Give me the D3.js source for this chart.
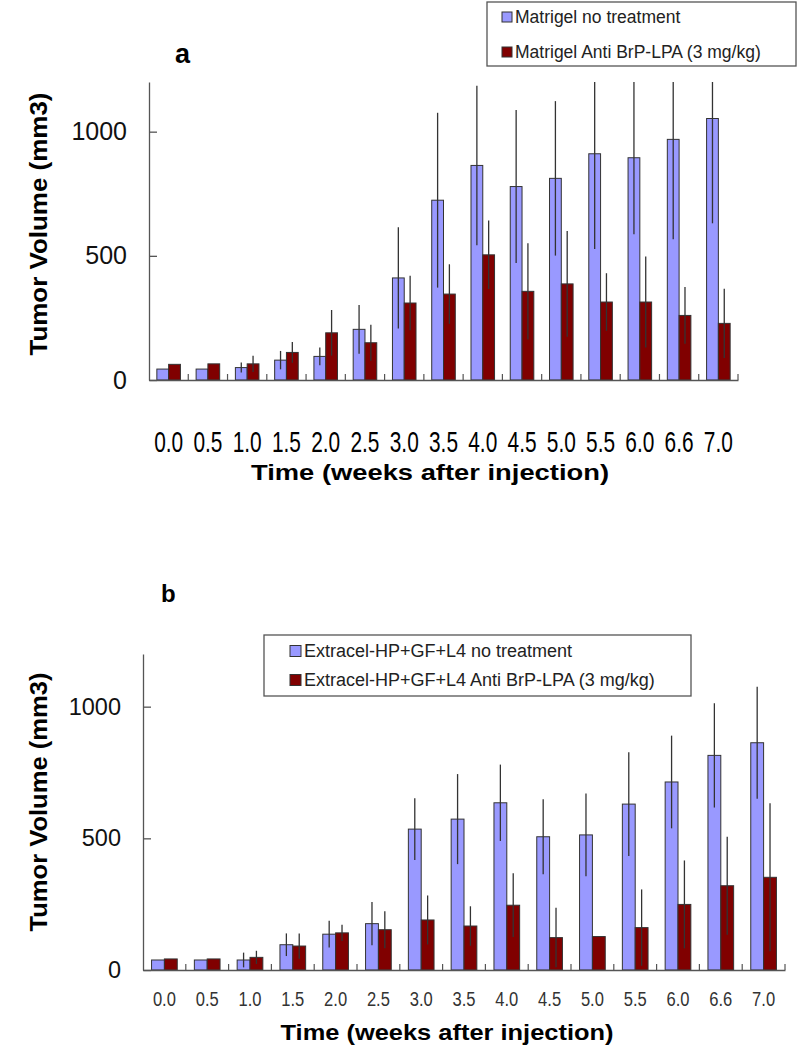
<!DOCTYPE html>
<html>
<head>
<meta charset="utf-8">
<script src="https://cdn.jsdelivr.net/npm/d3@7.9.0/dist/d3.min.js"></script>
<style>
  body { margin: 0; background: #fff; }
  svg { display: block; font-family: "Liberation Sans", Arial, sans-serif; }
</style>
</head>
<body>
<svg id="chart" width="812" height="1050"></svg>
<script>
// time points (weeks after injection)
const weeks = ['0.0', '0.5', '1.0', '1.5', '2.0', '2.5', '3.0', '3.5', '4.0', '4.5', '5.0', '5.5', '6.0', '6.6', '7.0'];
const yTicks = [0, 500, 1000];

// panel a - Matrigel
const matrigelNoTx     = [44, 44, 50, 80, 95, 204, 411, 724, 864, 779, 812, 911, 895, 969, 1053];
const matrigelNoTxErr  = [0, 0, 20, 37, 36, 98, 204, 352, 321, 308, 311, 383, 308, 402, 422];
const matrigelAnti     = [63, 65, 65, 111, 190, 150, 310, 346, 504, 357, 387, 314, 314, 260, 228];
const matrigelAntiErr  = [0, 0, 33, 42, 92, 72, 110, 120, 138, 194, 213, 116, 183, 114, 139];

// panel b - Extracel-HP+GF+L4
const extracelNoTx     = [38, 38, 38, 96, 136, 176, 535, 573, 635, 506, 513, 630, 714, 815, 863];
const extracelNoTxErr  = [0, 0, 28, 43, 51, 82, 117, 171, 145, 142, 157, 197, 176, 198, 213];
const extracelAnti     = [42, 42, 48, 91, 141, 153, 190, 167, 246, 123, 127, 161, 249, 320, 352];
const extracelAntiErr  = [0, 0, 25, 48, 31, 70, 93, 75, 121, 113, 0, 145, 167, 186, 281];

const legendA = ['Matrigel no treatment', 'Matrigel Anti BrP-LPA (3 mg/kg)'];
const legendB = ['Extracel-HP+GF+L4 no treatment', 'Extracel-HP+GF+L4 Anti BrP-LPA (3 mg/kg)'];

const BLUE = '#9999ff', RED = '#800000', AXIS = '#555';

const svg = d3.select('#chart');
svg.append('rect').attr('width', 812).attr('height', 1050).attr('fill', '#fff');

function drawPanel(p) {
  const x = d3.scaleBand().domain(weeks).range([p.left, p.right]).paddingInner(0).paddingOuter(0);
  const y = d3.scaleLinear().domain([0, 1200]).range([p.bottom, p.top]).clamp(true);
  const bw = x.step() * 0.3;
  const g = svg.append('g');

  const series = [
    { vals: p.a, err: p.aErr, color: BLUE, off: -bw },
    { vals: p.b, err: p.bErr, color: RED, off: 0 }
  ];

  // bars
  series.forEach(s => {
    g.append('g').selectAll('rect')
      .data(weeks)
      .join('rect')
      .attr('x', (d) => x(d) + x.step() / 2 + s.off)
      .attr('y', (d, i) => y(s.vals[i]))
      .attr('width', bw)
      .attr('height', (d, i) => y(0) - y(s.vals[i]))
      .attr('fill', s.color)
      .attr('stroke', '#333')
      .attr('stroke-width', 1);
  });

  // error bars (symmetric, no caps)
  series.forEach(s => {
    g.append('g').selectAll('line')
      .data(weeks.filter((d, i) => s.err[i] > 0))
      .join('line')
      .attr('x1', d => x(d) + x.step() / 2 + s.off + bw / 2)
      .attr('x2', d => x(d) + x.step() / 2 + s.off + bw / 2)
      .attr('y1', d => { const i = weeks.indexOf(d); return y(s.vals[i] + s.err[i]); })
      .attr('y2', d => { const i = weeks.indexOf(d); return y(Math.max(0, s.vals[i] - s.err[i])); })
      .attr('stroke', '#333')
      .attr('stroke-width', 1.3);
  });

  // y axis
  const ya = g.append('g')
    .attr('transform', `translate(${p.left},0)`)
    .call(d3.axisLeft(y).tickValues(yTicks).tickSize(-8).tickSizeOuter(0).tickPadding(p.yPad).tickFormat(d3.format('d')));
  ya.select('.domain').attr('stroke', AXIS).attr('stroke-width', 1.3);
  ya.selectAll('.tick line').attr('stroke', AXIS).attr('stroke-width', 1.3);
  ya.selectAll('.tick text').attr('font-size', p.yFont).attr('fill', '#111').attr('font-family', null);

  // x axis baseline + boundary ticks
  const xa = g.append('g')
    .attr('transform', `translate(0,${p.bottom})`)
    .call(d3.axisBottom(x).tickSize(0).tickSizeOuter(0).tickPadding(p.xPad));
  xa.select('.domain').attr('stroke', AXIS).attr('stroke-width', 1.3);
  xa.selectAll('.tick text')
    .attr('font-size', p.xFont)
    .attr('font-family', null)
    .attr('fill', p.xColor)
    .attr('textLength', p.xLen)
    .attr('lengthAdjust', 'spacingAndGlyphs');

  g.append('g').selectAll('line')
    .data(weeks)
    .join('line')
    .attr('x1', d => x(d) + x.step())
    .attr('x2', d => x(d) + x.step())
    .attr('y1', p.bottom)
    .attr('y2', p.bottom - 6)
    .attr('stroke', AXIS)
    .attr('stroke-width', 1.2);

  // axis titles
  g.append('text')
    .attr('transform', `translate(${p.yTitleX},${p.yTitleY}) rotate(-90)`)
    .attr('text-anchor', 'middle')
    .attr('font-size', 23)
    .attr('font-weight', 'bold')
    .attr('textLength', p.yTitleLen)
    .attr('lengthAdjust', 'spacingAndGlyphs')
    .text('Tumor Volume (mm3)');

  g.append('text')
    .attr('x', p.xTitleX)
    .attr('y', p.xTitleY)
    .attr('text-anchor', 'middle')
    .attr('font-size', 22)
    .attr('font-weight', 'bold')
    .attr('textLength', p.xTitleLen)
    .attr('lengthAdjust', 'spacingAndGlyphs')
    .text('Time (weeks after injection)');

  // panel letter
  g.append('text')
    .attr('x', p.letterX).attr('y', p.letterY)
    .attr('font-size', p.letterSize).attr('font-weight', 'bold')
    .text(p.letter);

  // legend
  const L = p.legend;
  const lg = g.append('g');
  lg.append('rect')
    .attr('x', L.x).attr('y', L.y).attr('width', L.w).attr('height', L.h)
    .attr('fill', '#fff').attr('stroke', '#555').attr('stroke-width', 1.3);
  p.legendText.forEach((t, i) => {
    const cy = L.y + L.row0 + i * L.rowGap;
    lg.append('rect')
      .attr('x', L.sx).attr('y', cy - L.sw / 2).attr('width', L.sw).attr('height', L.sw)
      .attr('fill', i === 0 ? BLUE : RED).attr('stroke', '#333');
    lg.append('text')
      .attr('x', L.sx + L.sw + 3).attr('y', cy).attr('dy', '0.35em')
      .attr('font-size', L.font).attr('fill', '#222')
      .text(t);
  });
}

drawPanel({
  left: 149, right: 738, top: 82, bottom: 380,
  a: matrigelNoTx, aErr: matrigelNoTxErr, b: matrigelAnti, bErr: matrigelAntiErr,
  yPad: 22, yFont: 25, xPad: 51, xFont: 30, xColor: '#000', xLen: 29,
  yTitleX: 47, yTitleY: 224, yTitleLen: 263,
  xTitleX: 430, xTitleY: 480, xTitleLen: 358,
  letter: 'a', letterX: 175, letterY: 63, letterSize: 27,
  legendText: legendA,
  legend: { x: 487, y: 2, w: 309, h: 64, row0: 15, rowGap: 35, sx: 502, sw: 10, font: 17.5 }
});

drawPanel({
  left: 143, right: 785, top: 654, bottom: 970,
  a: extracelNoTx, aErr: extracelNoTxErr, b: extracelAnti, bErr: extracelAntiErr,
  yPad: 22, yFont: 23.5, xPad: 22, xFont: 20, xColor: '#333', xLen: 23,
  yTitleX: 47, yTitleY: 802, yTitleLen: 259,
  xTitleX: 447, xTitleY: 1040, xTitleLen: 333,
  letter: 'b', letterX: 161, letterY: 602, letterSize: 24,
  legendText: legendB,
  legend: { x: 264, y: 635, w: 427, h: 61, row0: 16, rowGap: 29, sx: 290, sw: 11, font: 18 }
});
</script>
</body>
</html>
